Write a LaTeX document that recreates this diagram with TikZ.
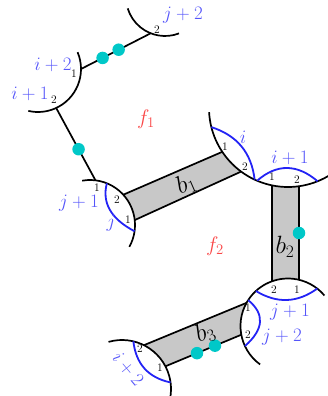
\RequirePackage{fix-cm}
\documentclass[tikz,border=0pt]{standalone}
\usetikzlibrary{calc}
\definecolor{labblue}{RGB}{85,85,250}
\definecolor{arcblue}{RGB}{35,35,245}
\definecolor{fred}{RGB}{250,70,70}
\definecolor{dotcyan}{RGB}{0,200,200}
\definecolor{bandgray}{RGB}{200,200,200}
\begin{document}
\begin{tikzpicture}[x=1pt,y=-1pt,
  edge/.style={line width=1.7pt, black},
  bluearc/.style={line width=1.8pt, arcblue},
  blab/.style={text=labblue, inner sep=0pt, font=\fontsize{19}{21}\selectfont},
  num/.style={inner sep=0pt, font=\fontsize{11.5}{13}\selectfont},
  flab/.style={text=fred, inner sep=0pt, font=\fontsize{21}{24}\selectfont},
  blabel/.style={inner sep=0pt, font=\fontsize{25}{28}\selectfont},
  dot/.style={circle, fill=dotcyan, inner sep=0pt, minimum size=12.5pt},
  bandfill/.style={fill=bandgray}]

\useasboundingbox (0,0) rectangle (328,396);
\clip (0,0) rectangle (328,396);

% disk centres
\coordinate (T) at (165,-3);
\coordinate (A) at (38,69);
\coordinate (B) at (90,225);
\coordinate (C) at (288,108);
\coordinate (D) at (288,326);
\coordinate (E) at (122,389);

% band corners
\coordinate (b1a) at ($(B)+(-42.3:45)$);
\coordinate (b1b) at ($(C)+(146.3:79)$);
\coordinate (b1c) at ($(C)+(126.4:79)$);
\coordinate (b1d) at ($(B)+(-6.3:45)$);

\coordinate (b2a) at ($(C)+(101.7:79)$);
\coordinate (b2b) at ($(D)+(-109.7:47.5)$);
\coordinate (b2c) at ($(D)+(-76.6:47.5)$);
\coordinate (b2d) at ($(C)+(82:79)$);

\coordinate (b3a) at ($(E)+(-63.4:49)$);
\coordinate (b3b) at ($(D)+(209.2:47.5)$);
\coordinate (b3c) at ($(D)+(169.4:47.5)$);
\coordinate (b3d) at ($(E)+(-27.6:49)$);

% band fills
\fill[bandfill] (b1a) -- (b1b) arc[start angle=146.3, end angle=126.4, radius=79]
  -- (b1d) arc[start angle=-6.3, end angle=-42.3, radius=45] -- cycle;
\fill[bandfill] (b2a) -- (b2b) arc[start angle=-109.7, end angle=-76.6, radius=47.5]
  -- (b2d) arc[start angle=82, end angle=101.7, radius=79] -- cycle;
\fill[bandfill] (b3a) -- (b3b) arc[start angle=209.2, end angle=169.4, radius=47.5]
  -- (b3d) arc[start angle=-27.6, end angle=-63.4, radius=49] -- cycle;

% disk boundary arcs
\draw[edge] ($(T)+(69:39)$) arc[start angle=69, end angle=163, radius=39];
\draw[edge] ($(A)+(-23:43)$) arc[start angle=-23, end angle=103, radius=43];
\draw[edge] ($(B)+(-100:45)$) arc[start angle=-100, end angle=29, radius=45];
\draw[edge] ($(C)+(45:79)$) arc[start angle=45, end angle=177, radius=79];
\draw[edge] ($(D)+(126:47.5)$) arc[start angle=126, end angle=320, radius=47.5];
\draw[edge] ($(E)+(-106:49)$) arc[start angle=-106, end angle=20, radius=49];

% band edges
\draw[edge] (b1a) -- (b1b);
\draw[edge] (b1d) -- (b1c);
\draw[edge] (b2a) -- (b2b);
\draw[edge] (b2d) -- (b2c);
\draw[edge] (b3a) -- (b3b);
\draw[edge] (b3d) -- (b3c);

% thin bands (lines)
\coordinate (at1) at ($(A)+(0:43)$);
\coordinate (at2) at ($(T)+(111.5:39)$);
\coordinate (ab1) at ($(A)+(65:43)$);
\coordinate (ab2) at ($(B)+(-83:45)$);
\draw[edge] (at1) -- (at2);
\draw[edge] (ab1) -- (ab2);

% blue arcs
\coordinate (bB1) at ($(B)+(-68:45)$);
\coordinate (bB2) at ($(B)+(8:45)$);
\coordinate (qB) at (99.2,212.7);
\draw[bluearc] (bB1) .. controls ($(bB1)!0.667!(qB)$) and ($(bB2)!0.667!(qB)$) .. (bB2);

\coordinate (bC1) at ($(C)+(166:79)$);
\coordinate (bC2) at ($(C)+(115:79)$);
\coordinate (qC) at (250,139.5);
\draw[bluearc] (bC1) .. controls ($(bC1)!0.667!(qC)$) and ($(bC2)!0.667!(qC)$) .. (bC2);

\coordinate (bC3) at ($(C)+(113:79)$);
\coordinate (bC4) at ($(C)+(68:79)$);
\coordinate (qC2) at (286.7,155);
\draw[bluearc] (bC3) .. controls ($(bC3)!0.667!(qC2)$) and ($(bC4)!0.667!(qC2)$) .. (bC4);

\coordinate (bD1) at ($(D)+(227.5:47.5)$);
\coordinate (bD2) at ($(D)+(308:47.5)$);
\coordinate (qD) at (287.5,310.2);
\draw[bluearc] (bD1) .. controls ($(bD1)!0.667!(qD)$) and ($(bD2)!0.667!(qD)$) .. (bD2);

\coordinate (bD3) at ($(D)+(213:47.5)$);
\coordinate (bD4) at ($(D)+(155:47.5)$);
\coordinate (qD2) at (273.4,320.9);
\draw[bluearc] (bD3) .. controls ($(bD3)!0.667!(qD2)$) and ($(bD4)!0.667!(qD2)$) .. (bD4);

\coordinate (bE1) at ($(E)+(-76.6:49)$);
\coordinate (bE2) at ($(E)+(-7.7:49)$);
\coordinate (qE) at (137.3,375.4);
\draw[bluearc] (bE1) .. controls ($(bE1)!0.667!(qE)$) and ($(bE2)!0.667!(qE)$) .. (bE2);

% cyan dots
\node[dot] (d1) at ($(at1)!0.31!(at2)$) {};
\node[dot] (d2) at ($(at1)!0.54!(at2)$) {};
\node[dot] (d3) at ($(ab1)!0.57!(ab2)$) {};
\node[dot] (d4) at ($(b2d)!0.5!(b2c)$) {};
\node[dot] (d5) at ($(b3d)!0.416!(b3c)$) {};
\node[dot] (d6) at ($(b3d)!0.653!(b3c)$) {};

% face labels
\node[flab] (f1) at (146,119) {$f_1$};
\node[flab] (f2) at (215,246) {$f_2$};

% band labels
\node[blabel, rotate=23.5] (lb1) at (186,184) {$b_1$};
\node[blabel] (lb2) at (285,247) {$b_2$};
\node[blabel, rotate=22] (lb3) at (205,333) {$b_3$};

% blue labels
\node[blab] (lT) at (183,15) {$j+2$};
\node[blab] (lA1) at (53,65) {$i+2$};
\node[blab] (lA2) at (30,94) {$i+1$};
\node[blab] (lB1) at (79,203) {$j+1$};
\node[blab] (lB2) at (111,223) {$j$};
\node[blab] (lC1) at (243,137) {$i$};
\node[blab] (lC2) at (290,158) {$i+1$};
\node[blab] (lD1) at (290,312) {$j+1$};
\node[blab] (lD2) at (282,337) {$j+2$};
\node[blab, rotate=-50] (lE) at (128,369) {$i+2$};

% small numbers
\node[num] (nT) at (157,30) {2};
\node[num] (nA1) at (74,74) {1};
\node[num] (nA2) at (54,100) {2};
\node[num] (nB1) at (97,188) {1};
\node[num] (nB2) at (117,200) {2};
\node[num] (nB3) at (128,220) {1};
\node[num] (nC1) at (225,147) {1};
\node[num] (nC2) at (245,167) {2};
\node[num] (nC3) at (272,177) {1};
\node[num] (nC4) at (297,180) {2};
\node[num] (nD1) at (274,290) {2};
\node[num] (nD2) at (297,290) {1};
\node[num] (nD3) at (248,308) {1};
\node[num] (nD4) at (248,335) {2};
\node[num] (nE1) at (140,349) {2};
\node[num] (nE2) at (160,368) {1};
\end{tikzpicture}
\end{document}
